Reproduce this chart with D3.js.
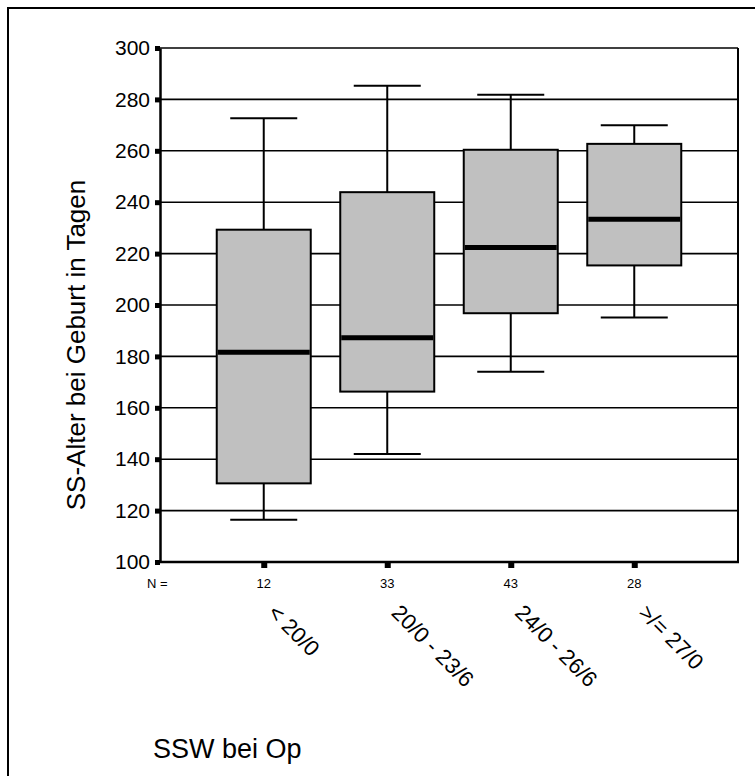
<!DOCTYPE html>
<html>
<head>
<meta charset="utf-8">
<script src="https://cdn.jsdelivr.net/npm/d3@7/dist/d3.min.js"></script>
<style>
  html, body { margin: 0; padding: 0; background: #fff; }
  svg { display: block; }
  text { font-family: "Liberation Sans", Arial, Helvetica, sans-serif; fill: #000; }
</style>
</head>
<body>
<svg id="chart" width="755" height="776"></svg>
<script>
// Gestational age at birth (days) by gestational week at surgery
const categories = ["< 20/0", "20/0 - 23/6", "24/0 - 26/6", ">/= 27/0"];
const nCounts = [12, 33, 43, 28];
const whiskerLow = [116.4, 142.0, 174.0, 195.1];
const q1 = [130.6, 166.3, 196.8, 215.4];
const median = [181.6, 187.3, 222.4, 233.4];
const q3 = [229.3, 243.9, 260.4, 262.7];
const whiskerHigh = [272.7, 285.3, 281.8, 269.9];
const yTicks = [100, 120, 140, 160, 180, 200, 220, 240, 260, 280, 300];

const svg = d3.select("#chart");
const plot = { left: 160, right: 738, top: 48, bottom: 562 };

const x = d3.scalePoint()
  .domain(categories)
  .range([plot.left, plot.right])
  .padding(0.84);

const y = d3.scaleLinear()
  .domain([100, 300])
  .range([plot.bottom, plot.top]);

const boxW = 94, capW = 67;

// outer frame
svg.append("rect")
  .attr("x", 8).attr("y", 8)
  .attr("width", 800).attr("height", 800)
  .attr("fill", "none").attr("stroke", "#000").attr("stroke-width", 2);

// horizontal gridlines
svg.append("g")
  .selectAll("line")
  .data(yTicks.filter(t => t > 100))
  .join("line")
  .attr("x1", plot.left).attr("x2", plot.right)
  .attr("y1", d => y(d)).attr("y2", d => y(d))
  .attr("stroke", "#000").attr("stroke-width", 1.6);

// right border of the plot area
svg.append("line")
  .attr("x1", plot.right).attr("x2", plot.right)
  .attr("y1", plot.top).attr("y2", plot.bottom)
  .attr("stroke", "#000").attr("stroke-width", 2);

const data = categories.map((c, i) => ({
  c, n: nCounts[i], lo: whiskerLow[i], q1: q1[i], med: median[i], q3: q3[i], hi: whiskerHigh[i]
}));

const boxes = svg.append("g").selectAll("g").data(data).join("g");

// whisker stems
boxes.append("line")
  .attr("x1", d => x(d.c)).attr("x2", d => x(d.c))
  .attr("y1", d => y(d.hi)).attr("y2", d => y(d.q3))
  .attr("stroke", "#000").attr("stroke-width", 2);
boxes.append("line")
  .attr("x1", d => x(d.c)).attr("x2", d => x(d.c))
  .attr("y1", d => y(d.q1)).attr("y2", d => y(d.lo))
  .attr("stroke", "#000").attr("stroke-width", 2);
// whisker caps
boxes.append("line")
  .attr("x1", d => x(d.c) - capW / 2).attr("x2", d => x(d.c) + capW / 2)
  .attr("y1", d => y(d.hi)).attr("y2", d => y(d.hi))
  .attr("stroke", "#000").attr("stroke-width", 2);
boxes.append("line")
  .attr("x1", d => x(d.c) - capW / 2).attr("x2", d => x(d.c) + capW / 2)
  .attr("y1", d => y(d.lo)).attr("y2", d => y(d.lo))
  .attr("stroke", "#000").attr("stroke-width", 2);
// interquartile boxes
boxes.append("rect")
  .attr("x", d => x(d.c) - boxW / 2)
  .attr("y", d => y(d.q3))
  .attr("width", boxW)
  .attr("height", d => y(d.q1) - y(d.q3))
  .attr("fill", "#c0c0c0").attr("stroke", "#000").attr("stroke-width", 2);
// medians
boxes.append("line")
  .attr("x1", d => x(d.c) - boxW / 2 + 1).attr("x2", d => x(d.c) + boxW / 2 - 1)
  .attr("y1", d => y(d.med)).attr("y2", d => y(d.med))
  .attr("stroke", "#000").attr("stroke-width", 5);

// y axis
const yAxis = d3.axisLeft(y).tickValues(yTicks).tickSize(0).tickPadding(10);
const gy = svg.append("g").attr("transform", `translate(${plot.left},0)`).call(yAxis);
gy.select(".domain").attr("stroke", "#000").attr("stroke-width", 2.5);
gy.selectAll("text").attr("font-size", 21).attr("font-family", "'Liberation Sans', Arial, sans-serif");
gy.selectAll(".tick").append("rect")
  .attr("x", -5).attr("y", -2.5).attr("width", 5).attr("height", 5).attr("fill", "#000");

// x axis
const xAxis = d3.axisBottom(x).tickSize(0).tickFormat("");
const gx = svg.append("g").attr("transform", `translate(0,${plot.bottom})`).call(xAxis);
gx.select(".domain").attr("stroke", "#000").attr("stroke-width", 2.5)
  .attr("d", `M${plot.left - 1},0H${plot.right + 1}`);
gx.selectAll(".tick").append("rect")
  .attr("x", -3).attr("y", 0).attr("width", 6).attr("height", 6).attr("fill", "#000");

// case counts
svg.append("text")
  .attr("x", 147).attr("y", 588)
  .attr("font-size", 13)
  .text("N =");
svg.append("g").selectAll("text").data(data).join("text")
  .attr("x", d => x(d.c)).attr("y", 588)
  .attr("text-anchor", "middle")
  .attr("font-size", 13)
  .text(d => d.n);

// rotated category labels
svg.append("g").selectAll("text").data(data).join("text")
  .attr("transform", d => `translate(${x(d.c) + 3},${614}) rotate(45)`)
  .attr("font-size", 22)
  .text(d => d.c);

// axis titles
svg.append("text")
  .attr("transform", "translate(85,345) rotate(-90)")
  .attr("text-anchor", "middle")
  .attr("font-size", 26)
  .text("SS-Alter bei Geburt in Tagen");

svg.append("text")
  .attr("x", 153).attr("y", 758)
  .attr("font-size", 27)
  .text("SSW bei Op");
</script>
</body>
</html>
